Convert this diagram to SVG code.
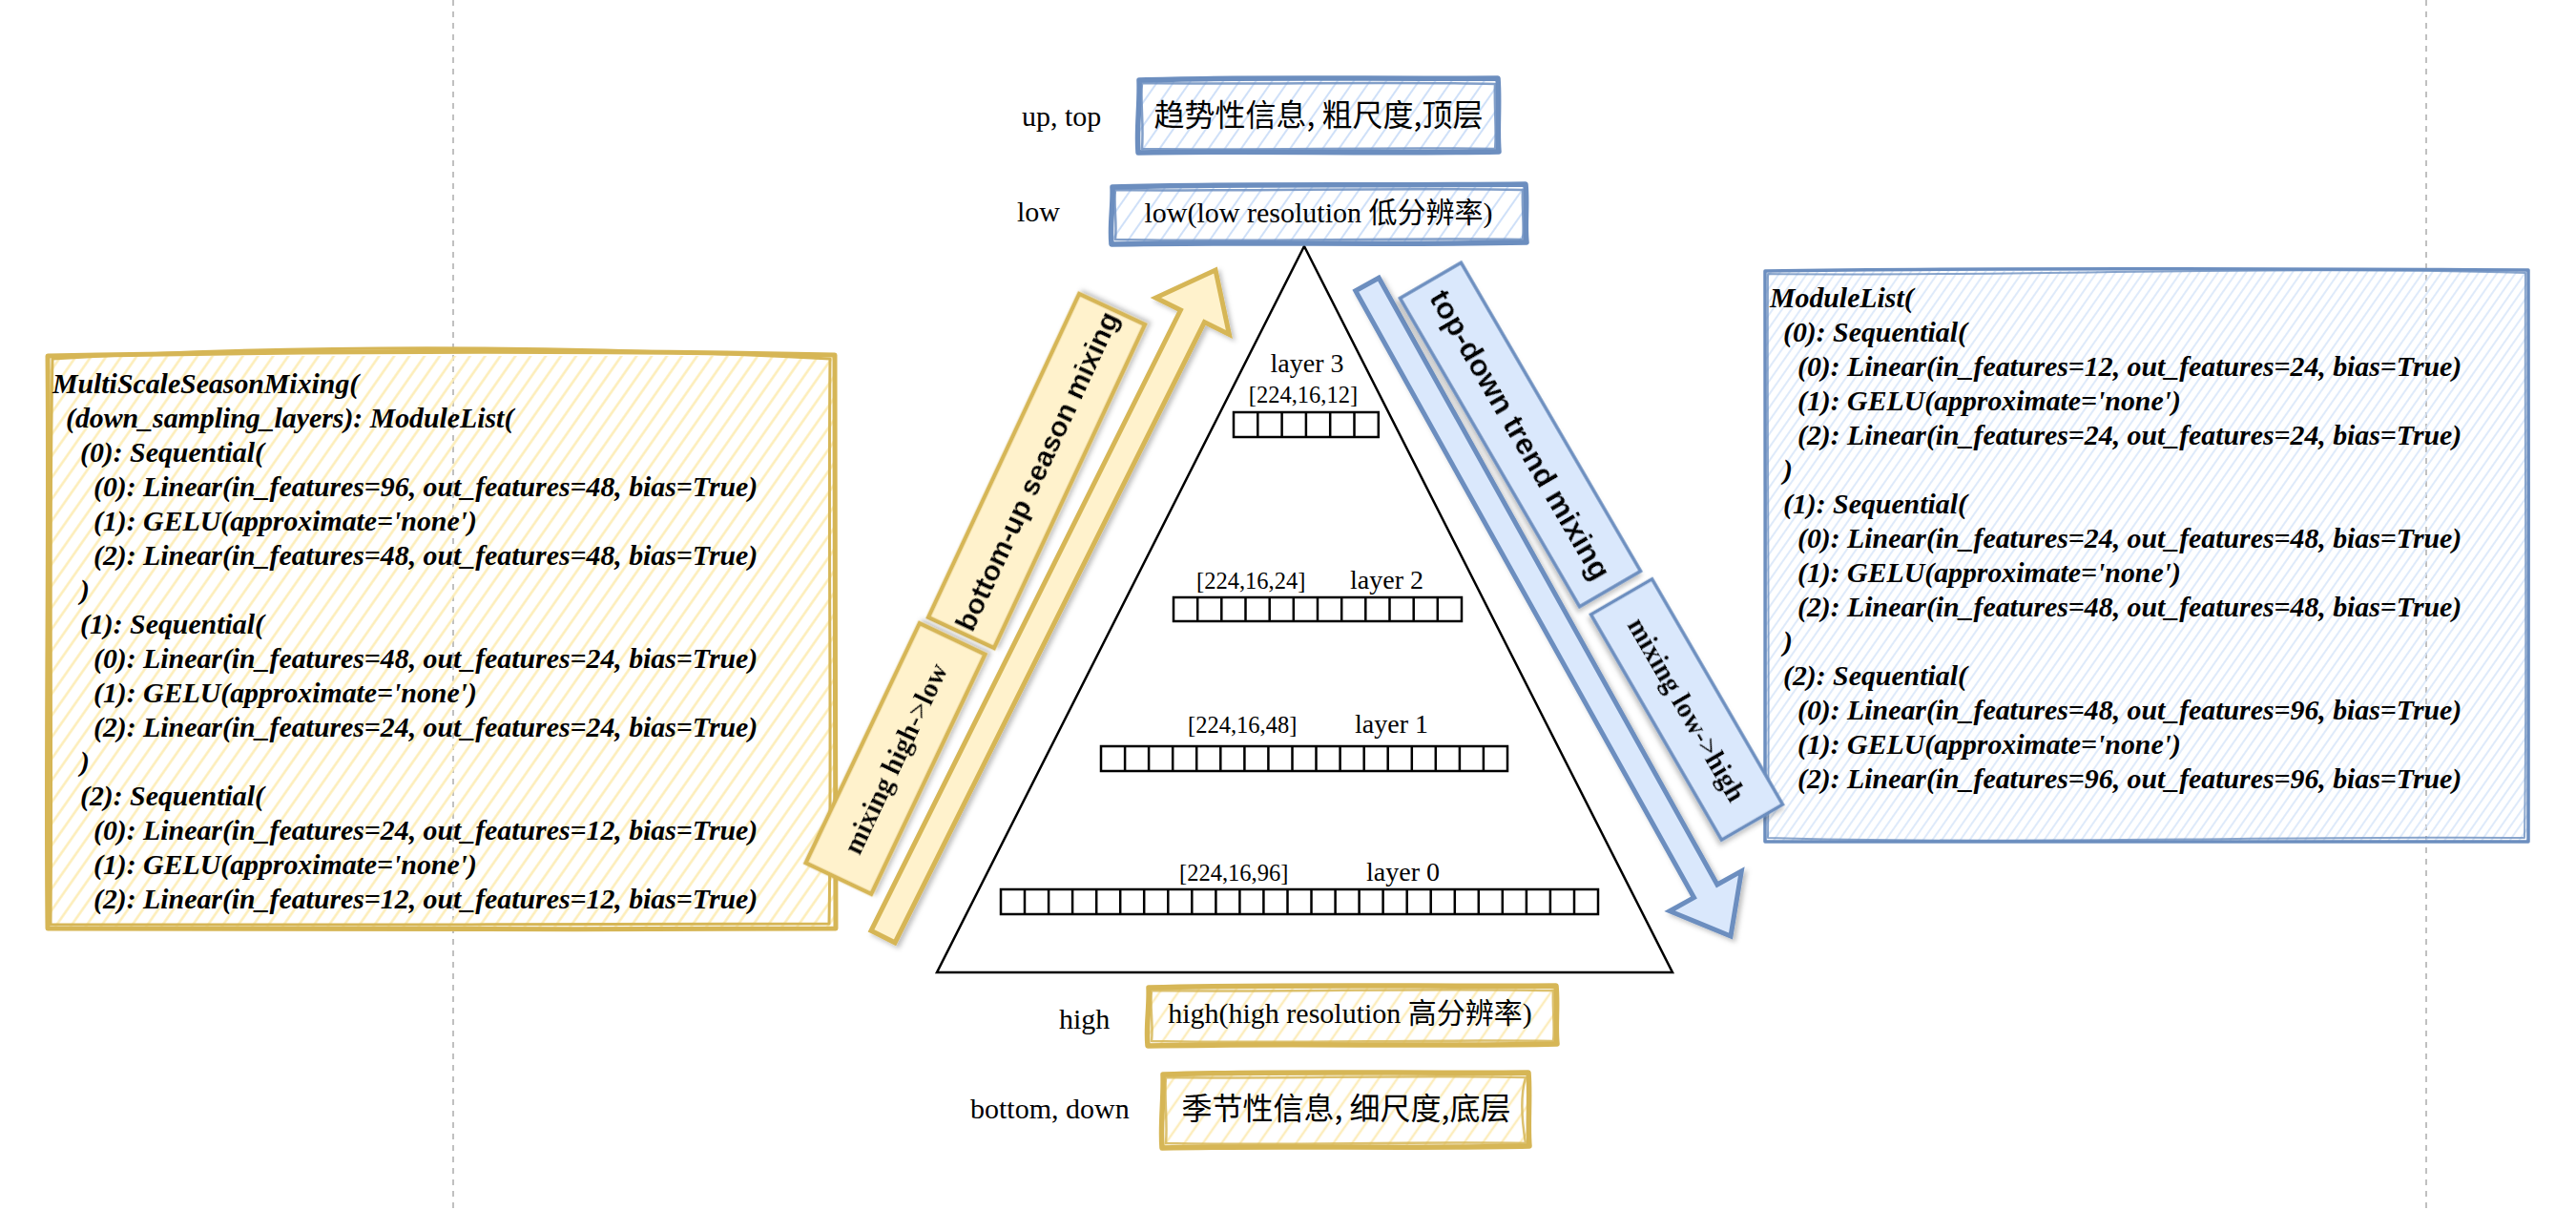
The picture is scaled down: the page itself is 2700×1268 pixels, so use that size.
<svg xmlns="http://www.w3.org/2000/svg" width="2700" height="1268" viewBox="0 0 2700 1268">
  <defs>
    <style>
      .code { font-family: "Liberation Serif", "Times New Roman", serif; font-size: 29.8px; font-weight: bold; font-style: italic; fill: #000; }
      .lbl { font-family: "Liberation Serif", "Times New Roman", "Noto Sans CJK SC", serif; font-size: 30px; fill: #000; }
      .cjk { font-family: "Noto Sans CJK SC", sans-serif; font-size: 32px; fill: #000; }
      .layer { font-family: "Liberation Serif", "Times New Roman", serif; font-size: 28px; fill: #000; }
      .shape { font-family: "Liberation Serif", "Times New Roman", serif; font-size: 24.5px; fill: #000; }
      .sansB { font-family: "Liberation Sans", Arial, sans-serif; font-size: 30px; font-weight: bold; fill: #000; text-anchor: middle; }
      .serifB { font-family: "Liberation Serif", "Times New Roman", serif; font-size: 29px; font-weight: bold; fill: #000; text-anchor: middle; }
      .mid { text-anchor: middle; }
      .skY { fill: none; stroke: #d6b656; stroke-linejoin: round; stroke-linecap: round; }
      .skB { fill: none; stroke: #6c8ebf; stroke-linejoin: round; stroke-linecap: round; }
      .lbY { fill: #fff2cc; stroke: #d6b656; stroke-width: 4.5; }
      .lbB { fill: #dae8fc; stroke: #6c8ebf; stroke-width: 3.5; }
      .cells { fill: none; stroke: #000; stroke-width: 2.5; }
      .divider { stroke: #c0c0c0; stroke-width: 2; stroke-dasharray: 6 6; }
    </style>
    <pattern id="hatchYellow" width="13" height="13" patternUnits="userSpaceOnUse" patternTransform="rotate(35)">
      <line x1="6.5" y1="0" x2="6.5" y2="13" stroke="#fdecb4" stroke-width="2.4"/>
    </pattern>
    <pattern id="hatchBlue" width="8" height="8" patternUnits="userSpaceOnUse" patternTransform="rotate(35)">
      <line x1="4" y1="0" x2="4" y2="8" stroke="#d3e3f9" stroke-width="1.5"/>
    </pattern>
    <pattern id="hatchBlueWide" width="14" height="14" patternUnits="userSpaceOnUse" patternTransform="rotate(35)">
      <line x1="7" y1="0" x2="7" y2="14" stroke="#cfe0f8" stroke-width="2"/>
    </pattern>
    <pattern id="hatchYellowWide" width="16" height="16" patternUnits="userSpaceOnUse" patternTransform="rotate(35)">
      <line x1="8" y1="0" x2="8" y2="16" stroke="#fcedbd" stroke-width="2.5"/>
    </pattern>
    <filter id="shadow" x="-20%" y="-20%" width="140%" height="140%">
      <feDropShadow dx="3" dy="3" stdDeviation="2.5" flood-color="#000" flood-opacity="0.25"/>
    </filter>
  </defs>

  <rect width="2700" height="1268" fill="#fff"/>

  <!-- page guides -->
  <g id="guides">
    <line class="divider" x1="475" y1="0" x2="475" y2="1268"/>
    <line class="divider" x1="2543" y1="0" x2="2543" y2="1268"/>
  </g>

  <!-- down-sampling module listing -->
  <g id="node-season-code">
    <rect x="50" y="373" width="825" height="600" fill="url(#hatchYellow)"/>
    <path class="skY" stroke-width="5" d="M50,373 C300,368 600,366 875,372 C877,560 874,780 876,973 C600,975 300,972 50,973 C48,780 52,560 50,373 Z"/>
    <path class="skY" stroke-width="3" d="M55,376 C320,360 600,362 870,376 C868,580 872,800 869,968 C600,970 320,968 53,969 C55,770 51,560 55,376 Z"/>
    <text class="code" x="55" y="412">MultiScaleSeasonMixing(</text>
    <text class="code" x="69" y="448">(down_sampling_layers): ModuleList(</text>
    <text class="code" x="84" y="484">(0): Sequential(</text>
    <text class="code" x="98" y="520">(0): Linear(in_features=96, out_features=48, bias=True)</text>
    <text class="code" x="98" y="556">(1): GELU(approximate='none')</text>
    <text class="code" x="98" y="592">(2): Linear(in_features=48, out_features=48, bias=True)</text>
    <text class="code" x="84" y="628">)</text>
    <text class="code" x="84" y="664">(1): Sequential(</text>
    <text class="code" x="98" y="700">(0): Linear(in_features=48, out_features=24, bias=True)</text>
    <text class="code" x="98" y="736">(1): GELU(approximate='none')</text>
    <text class="code" x="98" y="772">(2): Linear(in_features=24, out_features=24, bias=True)</text>
    <text class="code" x="84" y="808">)</text>
    <text class="code" x="84" y="844">(2): Sequential(</text>
    <text class="code" x="98" y="880">(0): Linear(in_features=24, out_features=12, bias=True)</text>
    <text class="code" x="98" y="916">(1): GELU(approximate='none')</text>
    <text class="code" x="98" y="952">(2): Linear(in_features=12, out_features=12, bias=True)</text>
  </g>

  <!-- up-sampling module listing -->
  <g id="node-trend-code">
    <rect x="1850" y="284" width="800" height="598" fill="url(#hatchBlue)"/>
    <path class="skB" stroke-width="3.5" d="M1850,284 C2100,280 2400,282 2650,283 C2651,480 2649,700 2650,882 C2400,884 2100,880 1850,882 C1849,700 1851,480 1850,284 Z"/>
    <path class="skB" stroke-width="2" d="M1853,287 C2100,290 2400,278 2647,286 C2646,480 2649,700 2646,878 C2400,876 2100,885 1853,878 C1855,700 1852,480 1853,287 Z" opacity="0.8"/>
    <text class="code" x="1855" y="322">ModuleList(</text>
    <text class="code" x="1869" y="358">(0): Sequential(</text>
    <text class="code" x="1884" y="394">(0): Linear(in_features=12, out_features=24, bias=True)</text>
    <text class="code" x="1884" y="430">(1): GELU(approximate='none')</text>
    <text class="code" x="1884" y="466">(2): Linear(in_features=24, out_features=24, bias=True)</text>
    <text class="code" x="1869" y="502">)</text>
    <text class="code" x="1869" y="538">(1): Sequential(</text>
    <text class="code" x="1884" y="574">(0): Linear(in_features=24, out_features=48, bias=True)</text>
    <text class="code" x="1884" y="610">(1): GELU(approximate='none')</text>
    <text class="code" x="1884" y="646">(2): Linear(in_features=48, out_features=48, bias=True)</text>
    <text class="code" x="1869" y="682">)</text>
    <text class="code" x="1869" y="718">(2): Sequential(</text>
    <text class="code" x="1884" y="754">(0): Linear(in_features=48, out_features=96, bias=True)</text>
    <text class="code" x="1884" y="790">(1): GELU(approximate='none')</text>
    <text class="code" x="1884" y="826">(2): Linear(in_features=96, out_features=96, bias=True)</text>
  </g>

  <!-- block arrows: bottom-up (season) and top-down (trend) -->
  <g id="connectors" filter="url(#shadow)">
    <path id="arrow-bottom-up" fill="#fff2cc" stroke="#d6b656" stroke-width="5" stroke-linejoin="miter"
          d="M913,975.3 L938,987.8 L1262.4,337.6 L1288.4,350.5 L1274,283 L1211.4,312.1 L1237.4,325 Z"/>
    <path id="arrow-top-down" fill="#dae8fc" stroke="#6c8ebf" stroke-width="5" stroke-linejoin="miter"
          d="M1420.8,304.8 L1445.2,291.2 L1799.9,927 L1825.3,912.9 L1814,981 L1750.1,954.7 L1775.5,940.6 Z"/>
  </g>

  <!-- arrow captions -->
  <g id="label-bottom-up" filter="url(#shadow)" transform="translate(1086.5,493.5) rotate(-65)">
    <rect class="lbY" x="-187" y="-38" width="374" height="76"/>
    <text class="sansB" y="10.5">bottom-up season mixing</text>
  </g>
  <g id="label-high-low" filter="url(#shadow)" transform="translate(938.5,795) rotate(-64.6)">
    <rect class="lbY" x="-139" y="-38" width="278" height="76"/>
    <text class="serifB" y="10">mixing high-&gt;low</text>
  </g>
  <g id="label-top-down" filter="url(#shadow)" transform="translate(1593.5,455.5) rotate(59.8)">
    <rect class="lbB" x="-187" y="-37" width="374" height="74"/>
    <text class="sansB" y="11" style="font-size:32px">top-down trend mixing</text>
  </g>
  <g id="label-low-high" filter="url(#shadow)" transform="translate(1768,743.5) rotate(59.9)">
    <rect class="lbB" x="-136.5" y="-37" width="273" height="74"/>
    <text class="serifB" y="10">mixing low-&gt;high</text>
  </g>

  <!-- scale pyramid -->
  <g id="node-pyramid">
    <polygon points="1367,258 1753,1019 982,1019" fill="#fff" stroke="#000" stroke-width="2.5" stroke-linejoin="miter"/>
  </g>

  <g id="node-layer3">
    <text class="layer mid" x="1370" y="390">layer 3</text>
    <text class="shape mid" x="1366" y="422">[224,16,12]</text>
    <rect class="cells" x="1293" y="432" width="151.8" height="26"/>
    <path class="cells" d="M1318.3,432v26M1343.6,432v26M1368.9,432v26M1394.2,432v26M1419.5,432v26"/>
  </g>

  <g id="node-layer2">
    <text class="shape" x="1254" y="617">[224,16,24]</text>
    <text class="layer" x="1415" y="617">layer 2</text>
    <rect class="cells" x="1230" y="626" width="302" height="25"/>
    <path class="cells" d="M1255.2,626v25M1280.3,626v25M1305.5,626v25M1330.7,626v25M1355.8,626v25M1381,626v25M1406.2,626v25M1431.3,626v25M1456.5,626v25M1481.7,626v25M1506.8,626v25"/>
  </g>

  <g id="node-layer1">
    <text class="shape" x="1245" y="768">[224,16,48]</text>
    <text class="layer" x="1420" y="768">layer 1</text>
    <rect class="cells" x="1154" y="782" width="426" height="26"/>
    <path class="cells" d="M1179.1,782v26M1204.1,782v26M1229.2,782v26M1254.2,782v26M1279.3,782v26M1304.4,782v26M1329.4,782v26M1354.5,782v26M1379.5,782v26M1404.6,782v26M1429.7,782v26M1454.7,782v26M1479.8,782v26M1504.8,782v26M1529.9,782v26M1554.9,782v26"/>
  </g>

  <g id="node-layer0">
    <text class="shape" x="1236" y="923">[224,16,96]</text>
    <text class="layer" x="1432" y="923">layer 0</text>
    <rect class="cells" x="1049" y="932" width="626" height="26"/>
    <path class="cells" d="M1074,932v26M1099.1,932v26M1124.1,932v26M1149.2,932v26M1174.2,932v26M1199.2,932v26M1224.3,932v26M1249.3,932v26M1274.4,932v26M1299.4,932v26M1324.4,932v26M1349.5,932v26M1374.5,932v26M1399.6,932v26M1424.6,932v26M1449.6,932v26M1474.7,932v26M1499.7,932v26M1524.8,932v26M1549.8,932v26M1574.8,932v26M1599.9,932v26M1624.9,932v26M1650,932v26"/>
  </g>

  <!-- resolution / level tags -->
  <g id="node-top">
    <text class="lbl" x="1071" y="132">up, top</text>
    <rect x="1194" y="83" width="377" height="76" fill="url(#hatchBlueWide)"/>
    <path class="skB" stroke-width="5.5" d="M1194,84 C1300,80 1450,83 1570,82 C1572,110 1569,135 1571,159 C1450,161 1300,158 1193,160 C1191,135 1195,110 1194,84 Z"/>
    <path class="skB" stroke-width="2.5" d="M1197,87 C1320,89 1440,85 1567,88 C1566,112 1569,140 1567,156 C1440,154 1320,158 1197,156 C1199,130 1195,105 1197,87 Z" opacity="0.85"/>
    <text class="cjk mid" x="1382" y="132">趋势性信息, 粗尺度,顶层</text>
  </g>

  <g id="node-low">
    <text class="lbl" x="1066" y="232">low</text>
    <rect x="1166" y="195" width="434" height="60" fill="url(#hatchBlueWide)"/>
    <path class="skB" stroke-width="5.5" d="M1166,196 C1300,192 1450,195 1599,193 C1601,215 1598,235 1600,254 C1450,257 1300,253 1165,256 C1163,235 1167,215 1166,196 Z"/>
    <path class="skB" stroke-width="2.5" d="M1169,199 C1320,201 1440,196 1596,199 C1595,218 1598,238 1596,251 C1440,249 1320,254 1169,251 C1171,232 1167,215 1169,199 Z" opacity="0.85"/>
    <text class="lbl mid" x="1382" y="233">low(low resolution 低分辨率)</text>
  </g>

  <g id="node-high">
    <text class="lbl" x="1110" y="1078">high</text>
    <rect x="1204" y="1034" width="428" height="61" fill="url(#hatchYellowWide)"/>
    <path class="skY" stroke-width="5.5" d="M1204,1035 C1350,1031 1500,1034 1631,1033 C1633,1055 1630,1075 1632,1094 C1500,1097 1350,1093 1203,1096 C1201,1075 1205,1055 1204,1035 Z"/>
    <path class="skY" stroke-width="2.5" d="M1207,1038 C1360,1040 1480,1035 1628,1038 C1627,1057 1630,1077 1628,1091 C1480,1089 1360,1094 1207,1091 C1209,1072 1205,1055 1207,1038 Z" opacity="0.85"/>
    <text class="lbl mid" x="1415" y="1072">high(high resolution 高分辨率)</text>
  </g>

  <g id="node-bottom">
    <text class="lbl" x="1017" y="1172">bottom, down</text>
    <rect x="1219" y="1125" width="384" height="77" fill="url(#hatchYellowWide)"/>
    <path class="skY" stroke-width="5.5" d="M1219,1126 C1330,1122 1480,1125 1602,1124 C1604,1150 1601,1178 1603,1201 C1480,1204 1330,1200 1218,1203 C1216,1178 1220,1150 1219,1126 Z"/>
    <path class="skY" stroke-width="2.5" d="M1222,1129 C1340,1131 1470,1126 1599,1129 C1593,1150 1596,1180 1599,1198 C1470,1196 1340,1201 1222,1198 C1224,1175 1220,1150 1222,1129 Z" opacity="0.85"/>
    <text class="cjk mid" x="1411" y="1173">季节性信息, 细尺度,底层</text>
  </g>
</svg>
